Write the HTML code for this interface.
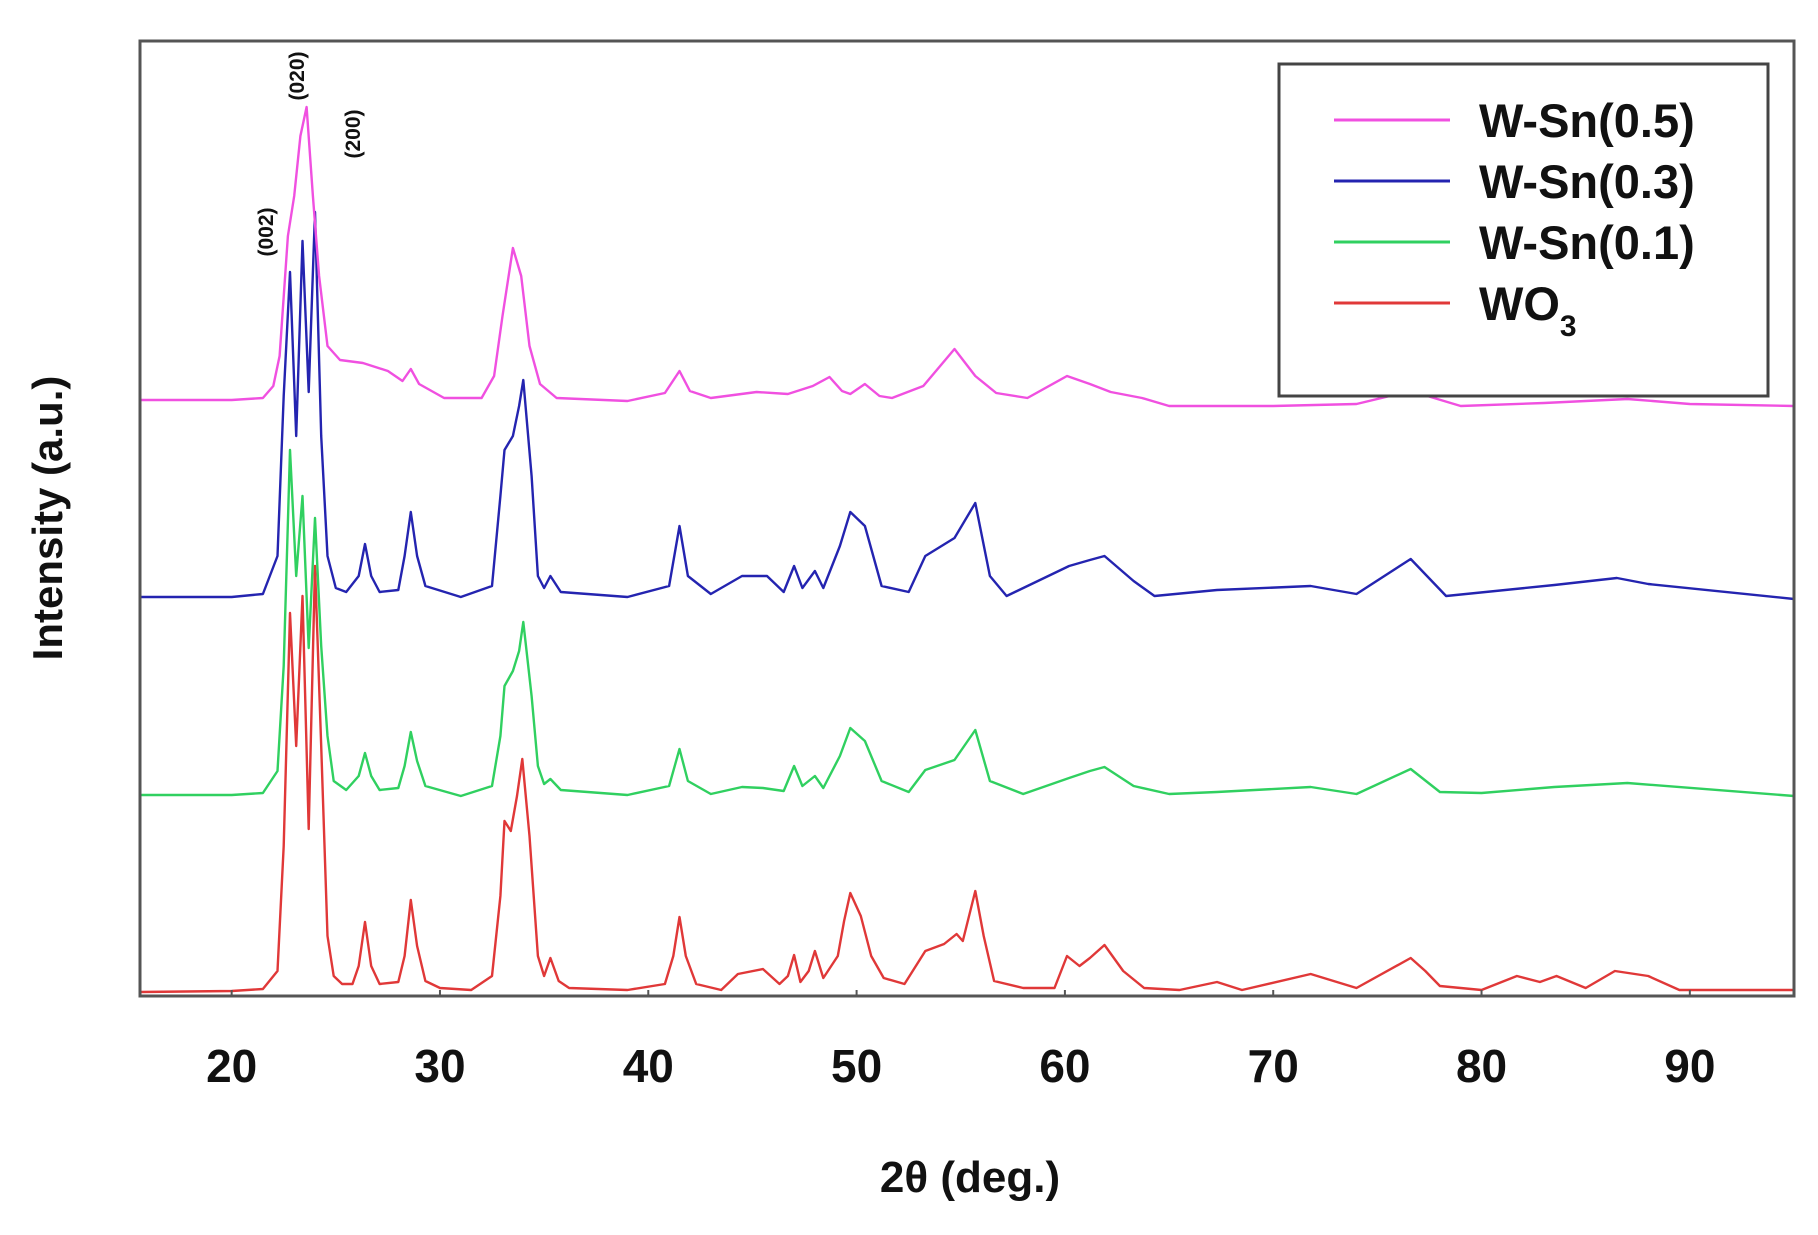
<!DOCTYPE html>
<html><head><meta charset="utf-8"><style>
html,body{margin:0;padding:0;background:#fff;}
svg{display:block;}
text{font-family:"Liberation Sans",sans-serif;}
</style></head><body>
<svg id="chart" width="1818" height="1235" viewBox="0 0 1818 1235" xmlns="http://www.w3.org/2000/svg">
<rect x="0" y="0" width="1818" height="1235" fill="#fff"/>
<g id="series"></g>
<rect x="140" y="41" width="1654" height="955" fill="none" stroke="#555" stroke-width="3"/>
<g id="xticks"></g>
<text x="970" y="1192" font-size="44" font-weight="bold" text-anchor="middle" fill="#111">2θ (deg.)</text>
<text transform="translate(62,518) rotate(-90)" font-size="42" font-weight="bold" text-anchor="middle" fill="#111">Intensity (a.u.)</text>
<text transform="translate(273,232) rotate(-90)" font-size="21" font-weight="bold" text-anchor="middle" fill="#111">(002)</text>
<text transform="translate(304,76) rotate(-90)" font-size="21" font-weight="bold" text-anchor="middle" fill="#111">(020)</text>
<text transform="translate(360,134) rotate(-90)" font-size="21" font-weight="bold" text-anchor="middle" fill="#111">(200)</text>
<g>
<rect x="1279" y="64" width="489" height="332" fill="#fff" stroke="#444" stroke-width="3"/>
<g id="legend-entries"></g>
</g>
</svg>
<script>
const xDomain = [15.6, 95];
const xTicks = [20, 30, 40, 50, 60, 70, 80, 90];
const seriesNames = ["WO3", "W-Sn(0.1)", "W-Sn(0.3)", "W-Sn(0.5)"];
const seriesColors = ["#e03838", "#30d060", "#2424b0", "#f050e0"];
const wo3X = [15.6,20,21.5,22.2,22.5,22.8,23.1,23.4,23.7,24.0,24.3,24.6,24.9,25.3,25.8,26.1,26.4,26.7,27.1,28.0,28.3,28.6,28.9,29.3,30,31.5,32.5,32.9,33.1,33.4,33.7,33.95,34.3,34.7,35.0,35.3,35.7,36.2,39,40.8,41.2,41.5,41.8,42.3,43.5,44.3,45.5,46.3,46.7,47.0,47.3,47.7,48.0,48.4,49.1,49.4,49.7,50.2,50.7,51.3,52.3,53.3,54.2,54.8,55.1,55.7,56.1,56.6,58,59.5,60.1,60.7,61.2,61.9,62.8,63.8,65.5,67.3,68.5,71.8,74,76.6,77.3,78,80,81.7,82.8,83.6,85,86.4,88,89.5,95];
const wo3Y = [4,5,7,25,150,383,250,400,167,430,250,60,20,12,12,30,74,30,12,14,40,96,50,15,8,6,20,100,175,165,200,237,160,40,20,38,15,8,6,12,40,79,40,12,6,22,27,12,20,41,14,25,45,18,40,75,103,80,40,18,12,45,52,62,55,105,60,15,8,8,40,30,38,51,25,8,6,14,6,22,8,38,25,10,6,20,14,20,8,25,20,6,6];
const g01X = [15.6,20,21.5,22.2,22.5,22.8,23.1,23.4,23.7,24.0,24.3,24.6,24.9,25.5,26.1,26.4,26.7,27.1,28.0,28.3,28.6,28.9,29.3,31,32.5,32.9,33.1,33.5,33.8,34.0,34.4,34.7,35.0,35.3,35.8,39,41.0,41.5,41.9,43,44.5,45.5,46.5,47.0,47.4,48.0,48.4,49.2,49.7,50.4,51.2,52.5,53.3,54.7,55.7,56.4,58,60.2,61.2,61.9,63.3,65,67.3,71.8,74,76.6,78,80,83.5,87,95];
const g01Y = [201,201,203,225,330,546,420,500,348,478,350,260,215,206,220,243,220,206,208,230,264,235,210,200,210,260,310,325,345,374,300,230,212,217,206,201,210,247,215,202,209,208,205,230,210,220,208,240,268,255,215,204,226,236,266,215,202,218,225,229,210,202,204,209,202,227,204,203,209,213,200];
const w03X = [15.6,20,21.5,22.2,22.5,22.8,23.1,23.4,23.7,24.0,24.3,24.6,25.0,25.5,26.1,26.4,26.7,27.1,28.0,28.3,28.6,28.9,29.3,31,32.5,32.9,33.1,33.5,33.8,34.0,34.4,34.7,35.0,35.3,35.8,39,41.0,41.5,41.9,43,44.5,45.7,46.5,47.0,47.4,48.0,48.4,49.2,49.7,50.4,51.2,52.5,53.3,54.7,55.7,56.4,57.2,60.2,61.2,61.9,63.3,64.3,67.3,71.8,74,76.6,78.3,83.5,86.5,88,95];
const w03Y = [399,399,402,440,600,724,560,755,604,784,560,440,408,404,420,452,420,404,406,440,484,440,410,399,410,500,546,560,590,616,520,420,408,420,404,399,410,470,420,402,420,420,404,430,408,425,408,450,484,470,410,404,440,458,493,420,400,430,436,440,415,400,406,410,402,437,400,411,418,412,397];
const w05X = [15.6,20,21.5,22.0,22.3,22.7,23.0,23.3,23.6,23.9,24.2,24.6,25.2,26.3,27.5,28.2,28.6,29.0,30.2,32,32.6,33.0,33.5,33.9,34.3,34.8,35.6,39,40.8,41.5,42.0,43,45.2,46.7,47.9,48.7,49.3,49.7,50.4,51.1,51.7,53.2,54.7,55.7,56.7,58.2,60.1,61.2,62.2,63.7,65,70,74,76.6,79,83,87,90,95];
const w05Y = [596,596,598,610,640,760,800,860,889,800,720,650,636,633,625,615,627,612,598,598,620,680,748,720,650,612,598,595,603,625,605,598,604,602,610,619,605,602,612,600,598,610,647,620,603,598,620,612,604,598,590,590,592,605,590,593,597,592,590];
const seriesX = [wo3X, g01X, w03X, w05X];
const seriesY = [wo3Y, g01Y, w03Y, w05Y];
const legendLabels = ["W-Sn(0.5)", "W-Sn(0.3)", "W-Sn(0.1)", "WO"];

const plotL = 140, plotR = 1794, plotT = 41, plotB = 996;
const yDomain = [0, 955];
function xs(v){ return plotL + (v - xDomain[0]) / (xDomain[1] - xDomain[0]) * (plotR - plotL); }
function ys(v){ return plotB - (v - yDomain[0]) / (yDomain[1] - yDomain[0]) * (plotB - plotT); }
const NS = "http://www.w3.org/2000/svg";
const sg = document.getElementById("series");
for (let s = 0; s < seriesX.length; s++) {
  const X = seriesX[s], Y = seriesY[s];
  let d = "";
  for (let i = 0; i < X.length; i++) d += (i ? "L" : "M") + xs(X[i]).toFixed(1) + "," + ys(Y[i]).toFixed(1);
  const p = document.createElementNS(NS, "path");
  p.setAttribute("d", d);
  p.setAttribute("fill", "none");
  p.setAttribute("stroke", seriesColors[s]);
  p.setAttribute("stroke-width", "2.4");
  p.setAttribute("stroke-linejoin", "round");
  
  
  sg.appendChild(p);
}
const xt = document.getElementById("xticks");
for (const t of xTicks) {
  const ln = document.createElementNS(NS, "line");
  ln.setAttribute("x1", xs(t)); ln.setAttribute("x2", xs(t));
  ln.setAttribute("y1", plotB); ln.setAttribute("y2", plotB - 6);
  ln.setAttribute("stroke", "#555"); ln.setAttribute("stroke-width", "2");
  
  
  xt.appendChild(ln);
  const tx = document.createElementNS(NS, "text");
  tx.setAttribute("x", xs(t)); tx.setAttribute("y", 1082);
  tx.setAttribute("font-size", "46"); tx.setAttribute("font-weight", "bold");
  tx.setAttribute("text-anchor", "middle"); tx.setAttribute("fill", "#111");
  tx.textContent = t;
  
  
  xt.appendChild(tx);
}
const le = document.getElementById("legend-entries");
const legendColors = [seriesColors[3], seriesColors[2], seriesColors[1], seriesColors[0]];
for (let i = 0; i < legendLabels.length; i++) {
  const y = 120 + i * 61;
  const ln = document.createElementNS(NS, "line");
  ln.setAttribute("x1", 1334); ln.setAttribute("x2", 1450);
  ln.setAttribute("y1", y); ln.setAttribute("y2", y);
  ln.setAttribute("stroke", legendColors[i]); ln.setAttribute("stroke-width", "3");
  
  
  le.appendChild(ln);
  const tx = document.createElementNS(NS, "text");
  tx.setAttribute("x", 1479); tx.setAttribute("y", y + 17);
  tx.setAttribute("font-size", "47"); tx.setAttribute("font-weight", "bold");
  tx.setAttribute("fill", "#111");
  tx.textContent = legendLabels[i];
  if (i === 3) {
    const sub = document.createElementNS(NS, "tspan");
    sub.setAttribute("font-size", "30"); sub.setAttribute("dy", "16");
    sub.textContent = "3";
    tx.appendChild(sub);
  }
  
  
  le.appendChild(tx);
}
</script>
</body></html>
